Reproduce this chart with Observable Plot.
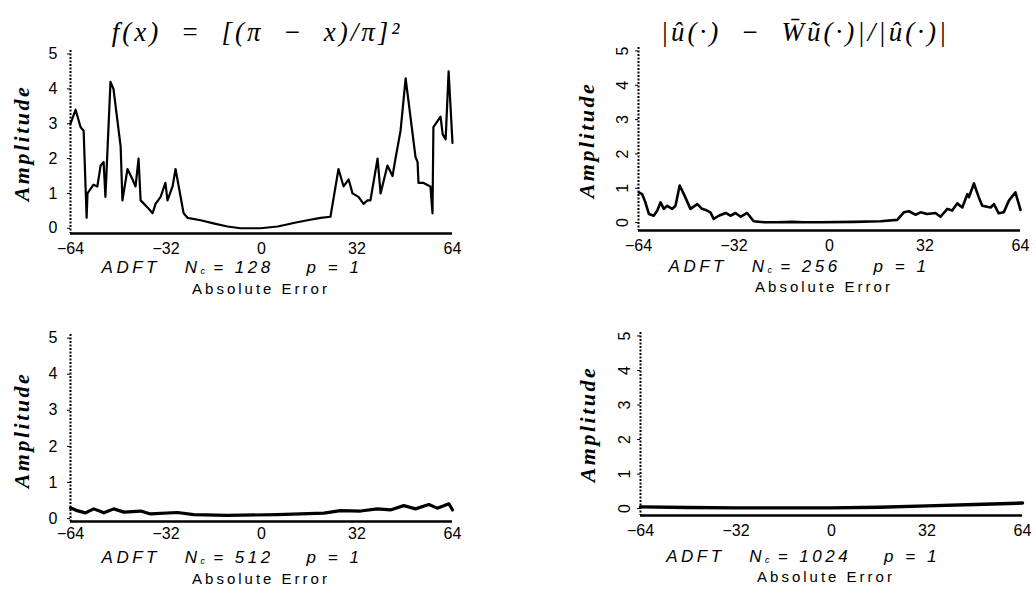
<!DOCTYPE html>
<html><head><meta charset="utf-8">
<script src="https://cdn.jsdelivr.net/npm/d3@7"></script>
<script src="https://cdn.jsdelivr.net/npm/@observablehq/plot@0.6"></script>
<style>
body{margin:0;background:#fff;}
#root{position:relative;width:1036px;height:593px;overflow:hidden;font-family:"Liberation Sans",Arial,sans-serif;color:#000;background:#fff;}
.panel{position:absolute;}
.t{position:absolute;transform:translate(-50%,-50%);white-space:pre;line-height:1;}
.title{font-family:"Liberation Serif",serif;font-style:italic;font-size:27px;letter-spacing:3px;}
.ylab{font-family:"Liberation Serif",serif;font-style:italic;font-weight:bold;font-size:22px;transform:translate(-50%,-50%) rotate(-90deg);letter-spacing:2.5px;}
.cap{font-style:italic;font-size:17px;letter-spacing:3.5px;}
.cap .sub{font-size:9px;vertical-align:-1px;line-height:0;letter-spacing:0;}
.xlab{font-size:15px;letter-spacing:3px;}
</style></head>
<body><div id="root"></div>
<script>
// ---- data ----
const xTicks = [-64, -32, 0, 32, 64];
const yTicks = [0, 1, 2, 3, 4, 5];
const titles = ["f(x)  =  [(π  −  x)/π]²", "|û(·)  −  W̄ũ(·)|/|û(·)|", "", ""];
const nValues = [128, 256, 512, 1024];
const pValue = 1;
const xLabel = "Absolute Error";
const yLabel = "Amplitude";

// panel 1: N = 128
const p1x = [-64,-62.3,-60.6,-59.6,-58.6,-58.3,-56.3,-55,-53.9,-52.9,-52.3,-50.6,-49.6,-47.2,-46.6,-44.9,-43.2,-42.2,-41.2,-40.5,-38.2,-36.5,-35.5,-33.8,-32.2,-31.5,-29.8,-28.8,-26.1,-24.8,-20.4,-16.1,-11.4,-7,-0.3,5.4,9.7,10.7,15.4,19.8,23.1,25.8,27.5,29.2,30.5,32.5,34.2,35.5,36.5,38.9,39.9,42.2,43.9,44.9,46.6,48.3,51.6,52.3,52.6,54.3,56.6,57.3,57.6,60,60.7,61.7,62.7,64];
const p1y = [3.0,3.4,2.9,2.8,0.3,1.0,1.25,1.2,1.8,1.9,0.9,4.2,4.0,2.35,0.8,1.7,1.4,1.2,2.0,0.8,0.6,0.43,0.7,0.9,1.3,0.8,1.2,1.7,0.43,0.3,0.23,0.14,0.05,0.0,0.0,0.05,0.13,0.15,0.23,0.3,0.33,1.7,1.2,1.4,1.0,0.9,0.7,0.8,0.8,2.0,1.0,1.8,1.5,2.0,2.8,4.3,2.05,1.9,1.3,1.3,1.2,0.43,2.9,3.2,2.7,2.55,4.5,2.45];

// panel 2: N = 256
const p2x = [-63.9,-62.8,-61.7,-60.5,-58.9,-57.7,-56.6,-55.5,-54.4,-52.7,-51.6,-50.2,-48.8,-46.6,-44.3,-42.7,-41.5,-39.9,-38.8,-37.1,-34.8,-33.2,-31.5,-29.8,-27.6,-25.4,-22,-17.5,-12.5,-8.6,-3,8.2,17.1,22.7,24.9,26.6,28.8,30.5,32.7,35.5,37.2,39.5,41.1,42.8,44.5,46.2,46.7,48.4,50,51.2,54,55.1,56.7,58.4,60.1,62.3,64];
const p2y = [0.88,0.83,0.59,0.25,0.2,0.35,0.59,0.4,0.49,0.4,0.49,1.08,0.83,0.4,0.54,0.4,0.37,0.3,0.11,0.2,0.28,0.2,0.28,0.17,0.28,0.04,0.01,0.01,0.02,0.01,0.01,0.02,0.04,0.08,0.3,0.33,0.23,0.3,0.25,0.28,0.17,0.4,0.35,0.56,0.44,0.83,0.74,1.14,0.74,0.49,0.44,0.54,0.27,0.3,0.64,0.88,0.37];

// panel 3: N = 512
const p3x = [-64,-61.8,-59,-56.2,-52.8,-49.5,-46.1,-40.5,-37.2,-28.2,-22.7,-11.5,5.3,20.9,26.5,33.2,38.8,43.2,47.7,51.6,56.1,58.9,62.8,64];
const p3y = [0.3,0.22,0.16,0.27,0.16,0.27,0.18,0.21,0.13,0.17,0.11,0.09,0.11,0.15,0.22,0.21,0.27,0.24,0.36,0.27,0.39,0.29,0.41,0.24];

// panel 4: N = 1024
const p4x = [-64,-48,-32,-16,0,16,32,48,64];
const p4y = [0.05,0.03,0.02,0.02,0.02,0.04,0.08,0.12,0.16];

// ---- layout ----
const panels = [
  {xs:p1x, ys:p1y, left:0,   top:0,   w:518, h:300, mt:50, mb:67, ml:70,  mr:66, ymin:-0.15, sw:2.2, rot:0,   tp:9,  ytp:10,
   title:[257,32], ylab:[22,143], cap:[232,267], xl:[261,288]},
  {xs:p2x, ys:p2y, left:518, top:0,   w:518, h:300, mt:47, mb:70, ml:120, mr:16, ymin:-0.23, sw:2.6, rot:-90, tp:9,  ytp:8,
   title:[805,32], ylab:[587,140], cap:[799,266], xl:[824,286]},
  {xs:p3x, ys:p3y, left:0,   top:300, w:518, h:293, mt:34, mb:72, ml:70,  mr:66, ymin:-0.08, sw:3.2, rot:0,   tp:6,  ytp:10,
   title:null, ylab:[22,430], cap:[232,557], xl:[261,578]},
  {xs:p4x, ys:p4y, left:518, top:300, w:518, h:293, mt:32, mb:78, ml:122, mr:14, ymin:-0.2, sw:3.4, rot:-90, tp:9,  ytp:8,
   title:null, ylab:[588,424], cap:[803,556], xl:[826,576]}
];

const root = document.getElementById("root");
const fmt = d => d < 0 ? "−" + (-d) : String(d);

panels.forEach((p, i) => {
  const data = p.xs.map((x, k) => ({x, y: p.ys[k]}));
  const chart = Plot.plot({
    width: p.w, height: p.h,
    marginTop: p.mt, marginBottom: p.mb, marginLeft: p.ml, marginRight: p.mr,
    style: {fontSize: "16px", fontFamily: "'Liberation Sans', Arial, sans-serif", color: "#000", background: "transparent"},
    x: {domain: [-64, 64], ticks: xTicks, tickFormat: fmt, tickSize: 0, tickPadding: p.tp, label: null},
    y: {domain: [p.ymin, 5.1], ticks: yTicks, tickFormat: d => String(d), tickSize: 3, tickPadding: p.ytp, label: null, tickRotate: p.rot},
    marks: [
      Plot.ruleY([p.ymin], {stroke: "#000", strokeWidth: 2.6}),
      Plot.ruleX([-64], {stroke: "#000", strokeWidth: 2, strokeDasharray: "2,1.5"}),
      Plot.line(data, {x: "x", y: "y", stroke: "#000", strokeWidth: p.sw, strokeLinejoin: "round"})
    ]
  });
  const div = document.createElement("div");
  div.className = "panel";
  div.style.left = p.left + "px"; div.style.top = p.top + "px";
  div.appendChild(chart);
  root.appendChild(div);

  const add = (cls, pos, html) => {
    const e = document.createElement("div");
    e.className = "t " + cls;
    e.style.left = pos[0] + "px"; e.style.top = pos[1] + "px";
    e.innerHTML = html;
    root.appendChild(e);
  };
  if (p.title) add("title", p.title, titles[i]);
  add("ylab", p.ylab, yLabel);
  add("cap", p.cap, "ADFT   N<span class=\"sub\">c</span> = " + nValues[i] + "    p = " + pValue);
  add("xlab", p.xl, xLabel);
});
</script>
</body></html>
